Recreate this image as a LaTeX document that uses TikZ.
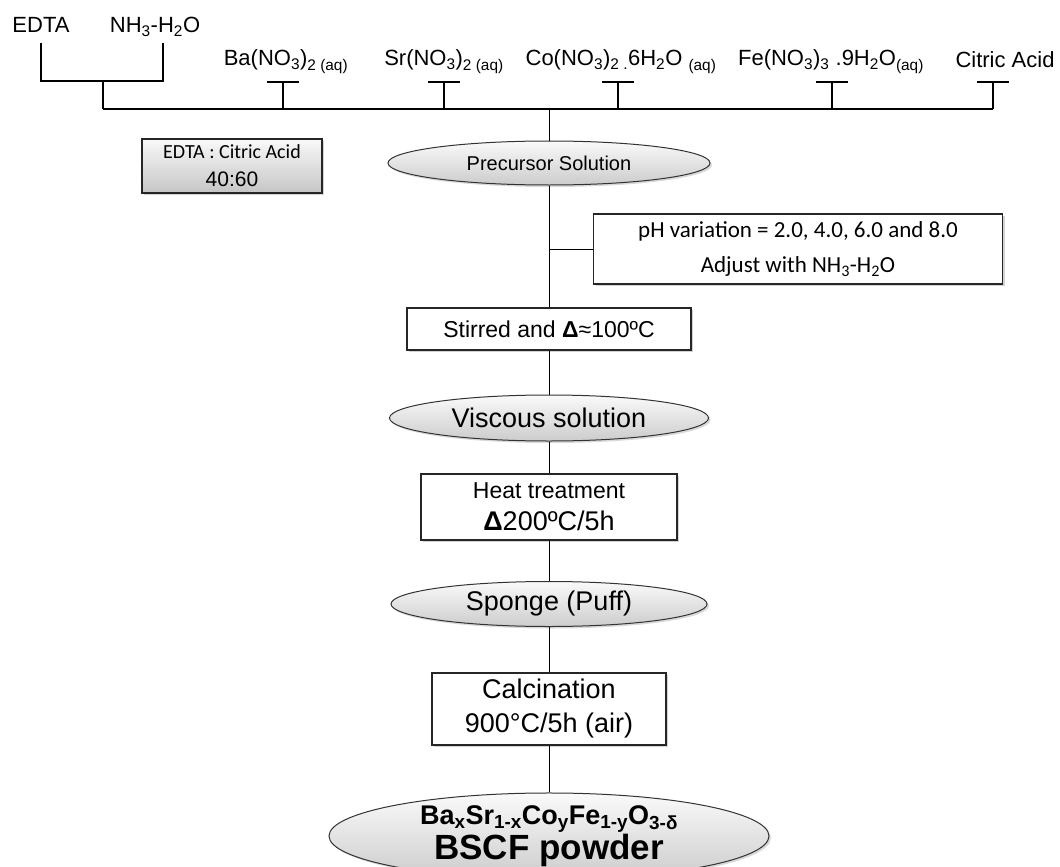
\documentclass[tikz,border=0pt]{standalone}
\usepackage{fontspec}
\setmainfont{Liberation Sans}
\newfontfamily\calibri{Carlito}
\newfontfamily\arial{Liberation Sans}
\usetikzlibrary{shapes.geometric,shadows}

\tikzset{
	lbl/.style={anchor=base, inner sep=0pt, font=\fontsize{22}{26}\selectfont},
	bus/.style={line width=2.4},
	link/.style={line width=1},
	stepbox/.style={rectangle, draw=black!85, line width=1.3, fill=white, align=center, inner sep=0pt,
		drop shadow={shadow xshift=2pt, shadow yshift=-2pt, opacity=0.35}},
	stepoval/.style={ellipse, draw=black!80, line width=1, top color=gray!4, bottom color=gray!40,
		align=center, inner sep=0pt,
		drop shadow={shadow xshift=2pt, shadow yshift=-2pt, opacity=0.3}}
}

\begin{document}
\begin{tikzpicture}[x=1pt, y=-1pt]
	\useasboundingbox (0,0) rectangle (1060,867);
	% Ausgangsstoffe oben
	\node[lbl] (edta) at (41, 33) {EDTA};
	\node[lbl] (nhh) at (155, 33) {NH\textsubscript{3}-H\textsubscript{2}O};
	\node[lbl] (ba) at (286, 66) {Ba(NO\textsubscript{3})\textsubscript{2 (aq)}};
	\node[lbl] (sr) at (444, 66) {Sr(NO\textsubscript{3})\textsubscript{2 (aq)}};
	\node[lbl] (co) at (621, 66) {Co(NO\textsubscript{3})\textsubscript{2 .}6H\textsubscript{2}O \textsubscript{(aq)}};
	\node[lbl] (fe) at (831, 66) {Fe(NO\textsubscript{3})\textsubscript{3} .9H\textsubscript{2}O\textsubscript{(aq)}};
	\node[lbl] (ca) at (1005, 67) {Citric Acid};
	% Klammer EDTA / NH3
	\draw[line width=1.2] (41, 43) -- (41, 81) -- (163, 81) -- (163, 43);
	\draw[bus] (103, 81) -- (103, 109);
	% Sammelleitung mit T-Stuecken
	\coordinate (bus) at (549, 109);
	\draw[bus] (103, 109) -- (993, 109);
	\foreach \x in {283, 444, 618, 832, 993} {
		\draw[bus] (\x - 16, 82) -- (\x + 16, 82);
		\draw[bus] (\x, 82) -- (\x, 109);
	}
	% Verhaeltnis
	\node[stepbox, top color=gray!5, bottom color=gray!45, minimum width=180, minimum height=54,
		font=\fontsize{20}{28}\selectfont] (ratio) at (232, 166)
		{{\calibri EDTA : Citric Acid}\\{\arial\fontsize{21}{28}\selectfont 40:60}};
	% Prozessschritte
	\node[stepoval, minimum width=322, minimum height=44, font=\fontsize{20}{24}\selectfont] (prec) at (549, 163) {Precursor Solution};
	\node[stepbox, minimum width=409, minimum height=70, font=\calibri\fontsize{23}{35}\selectfont] (ph) at (798, 249)
		{pH variation = 2.0, 4.0, 6.0 and 8.0\\Adjust with NH\textsubscript{3}-H\textsubscript{2}O};
	\node[stepbox, minimum width=284, minimum height=42, font=\fontsize{23}{27}\selectfont] (stir) at (549, 329)
		{Stirred and \textbf{Δ}≈100ºC};
	\node[stepoval, minimum width=319, minimum height=46, font=\fontsize{27}{31}\selectfont] (visc) at (549, 418) {Viscous solution};
	\node[stepbox, minimum width=256, minimum height=66, font=\fontsize{23}{32}\selectfont] (heat) at (549, 507)
		{Heat treatment\\{\fontsize{27}{32}\selectfont\textbf{Δ}200ºC/5h}};
	\node[stepoval, minimum width=316, minimum height=45, font=\fontsize{27}{31}\selectfont] (spng) at (549, 604) {Sponge (Puff)};
	\node[stepbox, minimum width=234, minimum height=72, font=\fontsize{27}{34}\selectfont] (calc) at (549, 709)
		{Calcination\\900°C/5h (air)};
	\node[stepoval, minimum width=440, minimum height=86, font=\bfseries\fontsize{27}{32}\selectfont] (bscf) at (549, 836)
		{Ba\textsubscript{x}Sr\textsubscript{1-x}Co\textsubscript{y}Fe\textsubscript{1-y}O\textsubscript{3-δ}\\
		{\fontsize{35}{32}\selectfont BSCF powder}};
	% Verbindungen
	\draw[link] (bus) -- (prec);
	\draw[link] (prec) -- (stir);
	\draw[link] (ph.west) -- (ph.west -| prec.south);
	\draw[link] (stir) -- (visc);
	\draw[link] (visc) -- (heat);
	\draw[link] (heat) -- (spng);
	\draw[link] (spng) -- (calc);
	\draw[link] (calc) -- (bscf);
\end{tikzpicture}
\end{document}
